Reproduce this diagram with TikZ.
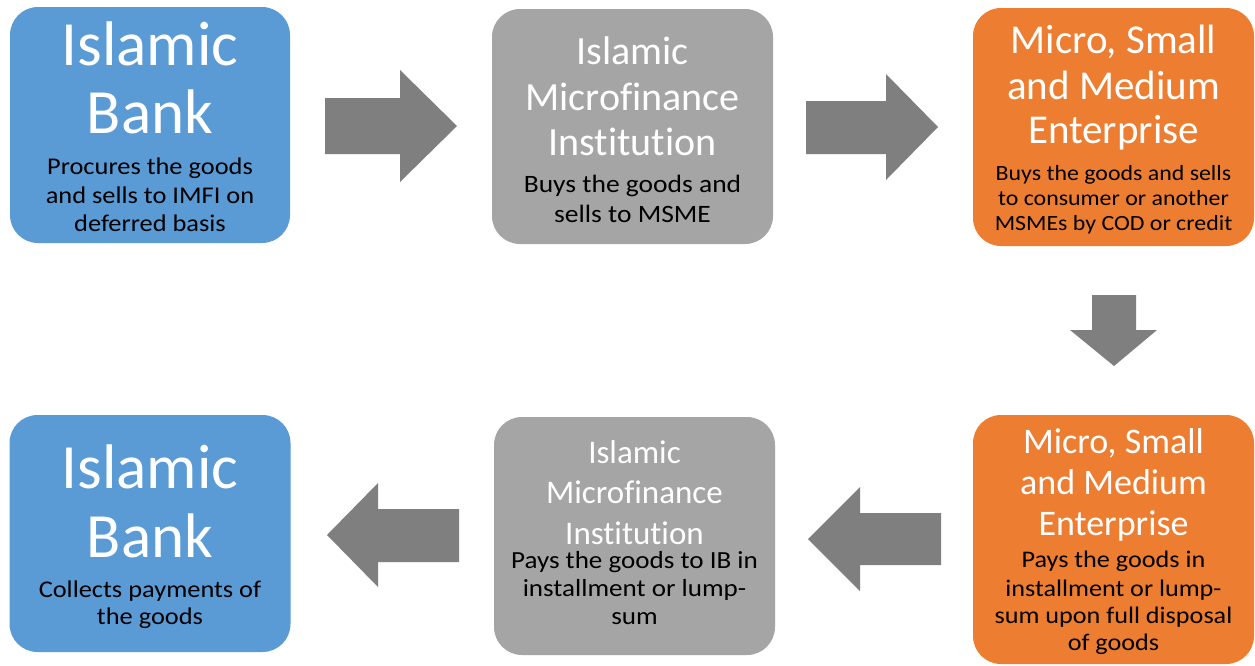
\documentclass[tikz,border=0pt]{standalone}
\usepackage{fontspec}
\setmainfont{Carlito}[RawFeature={-liga;-clig;-calt;-dlig}]
\newfontfamily\descfont{Carlito}[FakeStretch=1.1, RawFeature={-liga;-clig;-calt;-dlig}]
\definecolor{ibblue}{HTML}{5B9BD5}
\definecolor{imgray}{HTML}{A5A5A5}
\definecolor{smorange}{HTML}{ED7D31}
\definecolor{flowgray}{HTML}{7F7F7F}
% one text row per entry: text/baseline
\newcommand\textrows[4]{%
  \foreach \txt/\yy [count=\k] in {#4} {\node[#3] (#1-\k) at (#2,\yy) {\txt};}}
\tikzset{
  card/.style={rounded corners=28pt, inner sep=0pt, draw=none},
  head/.style={anchor=base, inner sep=0pt, text=white},
  note/.style={anchor=base, inner sep=0pt, text=black},
  flow/.style={fill=flowgray, draw=none},
}
\begin{document}
\begin{tikzpicture}[x=1pt, y=-1pt]
\fill[white] (0,0) rectangle (1255,665);
\useasboundingbox (0,0) rectangle (1255,665);

% cards
\node[card, fill=ibblue,   minimum width=280pt, minimum height=236pt] (bank1) at (150,125) {};
\node[card, fill=imgray,   minimum width=281pt, minimum height=235pt] (mfi1)  at (632.5,126.5) {};
\node[card, fill=smorange, minimum width=281pt, minimum height=238pt] (sme1)  at (1113.5,127) {};
\node[card, fill=smorange, minimum width=281pt, minimum height=249pt] (sme2)  at (1113.5,539.5) {};
\node[card, fill=imgray,   minimum width=281pt, minimum height=238pt] (mfi2)  at (634.5,536) {};
\node[card, fill=ibblue,   minimum width=281pt, minimum height=237pt] (bank2) at (150,533.5) {};

% card texts
\textrows{bank1h}{150}{head, font=\fontsize{63pt}{63pt}\selectfont}{Islamic/65, Bank/133}
\textrows{bank1n}{150}{note, font=\descfont\fontsize{24pt}{24pt}\selectfont}{Procures the goods/174, and sells to IMFI on/203, deferred basis/231}

\textrows{mfi1h}{632.5}{head, font=\fontsize{40pt}{40pt}\selectfont}{Islamic/64, Microfinance/110, Institution/155}
\textrows{mfi1n}{632.5}{note, font=\descfont\fontsize{25pt}{25pt}\selectfont}{Buys the goods and/192, sells to MSME/222}

\textrows{sme1h}{1113.5}{head, font=\fontsize{41pt}{41pt}\selectfont}{{Micro, Small}/53, and Medium/99, Enterprise/143}
\textrows{sme1n}{1113.5}{note, font=\descfont\fontsize{21.7pt}{21.7pt}\selectfont}{Buys the goods and sells/180, to consumer or another/205, MSMEs by COD or credit/230}

\textrows{sme2h}{1113.5}{head, font=\fontsize{36pt}{36pt}\selectfont}{{Micro, Small}/453, and Medium/494, Enterprise/535}
\textrows{sme2n}{1113.5}{note, font=\descfont\fontsize{23.8pt}{23.8pt}\selectfont}{Pays the goods in/567, installment or lump-/596, sum upon full disposal/623, of goods/650}

\textrows{mfi2h}{634.5}{head, font=\fontsize{33pt}{33pt}\selectfont}{Islamic/463, Microfinance/503, Institution/544}
\textrows{mfi2n}{634.5}{note, font=\descfont\fontsize{24.6pt}{24.6pt}\selectfont}{Pays the goods to IB in/568, installment or lump-/596, sum/624}

\textrows{bank2h}{150}{head, font=\fontsize{63pt}{63pt}\selectfont}{Islamic/488, Bank/557}
\textrows{bank2n}{150}{note, font=\descfont\fontsize{24pt}{24pt}\selectfont}{Collects payments of/597, the goods/624}

% block arrows between the cards
\fill[flow] (325,98) -- (400,98) -- (400,70) -- (457,126) -- (400,182) -- (400,154) -- (325,154) -- cycle;
\fill[flow] (806,101) -- (886,101) -- (886,74) -- (938,127) -- (886,180) -- (886,154) -- (806,154) -- cycle;
\fill[flow] (1092,295) -- (1136,295) -- (1136,330) -- (1157,330) -- (1114,366) -- (1070,330) -- (1092,330) -- cycle;
\fill[flow] (941,513) -- (860,513) -- (860,487) -- (808,539) -- (860,591) -- (860,565) -- (941,565) -- cycle;
\fill[flow] (459,509) -- (378,509) -- (378,483) -- (327,535) -- (378,587) -- (378,562) -- (459,562) -- cycle;
\end{tikzpicture}
\end{document}
